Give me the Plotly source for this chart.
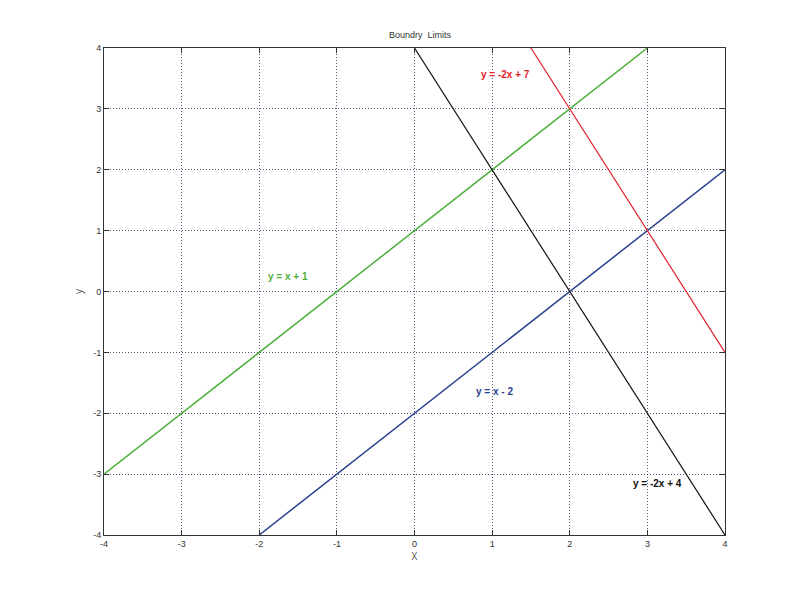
import plotly.graph_objects as go

# line end points
green_x = [-4, 3]
green_y = [-3, 4]
blue_x = [-2, 4]
blue_y = [-4, 2]
black_x = [0, 4]
black_y = [4, -4]
red_x = [1.5, 4]
red_y = [4, -1]

labels = ["<b>y = -2x + 7</b>", "<b>y = x + 1</b>", "<b>y = x - 2</b>", "<b>y = -2x + 4</b>"]
label_x = [1.17, -1.63, 1.03, 3.13]
label_y = [3.57, 0.24, -1.65, -3.16]
label_colors = ["#e0202a", "#4caf3a", "#2a3f8f", "#111111"]

ticks = [-4, -3, -2, -1, 0, 1, 2, 3, 4]
tick_text = ["-4", "-3", "-2", "-1", "0", "1", "2", "3", "4"]

fig = go.Figure()
fig.add_trace(go.Scatter(x=green_x, y=green_y, mode="lines", line=dict(color="#4caf3a", width=1.5)))
fig.add_trace(go.Scatter(x=blue_x, y=blue_y, mode="lines", line=dict(color="#2a3f8f", width=1.5)))
fig.add_trace(go.Scatter(x=black_x, y=black_y, mode="lines", line=dict(color="#111111", width=1.2)))
fig.add_trace(go.Scatter(x=red_x, y=red_y, mode="lines", line=dict(color="#e0202a", width=1.2)))

for t, x, y, c in zip(labels, label_x, label_y, label_colors):
    fig.add_annotation(x=x, y=y, text=t, showarrow=False,
                       font=dict(color=c, size=10, family="Arial"))

axis = dict(range=[-4, 4], tickvals=ticks, ticktext=tick_text, showgrid=True,
            gridcolor="#555577", griddash="1px,2px", gridwidth=1, zeroline=False,
            showline=True, linecolor="#333333", linewidth=1, mirror="ticks",
            ticks="inside", ticklen=5, tickcolor="#333333",
            tickfont=dict(size=9, color="#333333", family="Arial"))

fig.update_layout(
    width=800, height=600, showlegend=False,
    plot_bgcolor="white", paper_bgcolor="white",
    margin=dict(l=96, r=83, t=40, b=73),
    title=dict(text="Boundry  Limits", x=0.515, xanchor="center", y=0.955, yanchor="middle",
               font=dict(size=9, color="#333333", family="Arial")),
    xaxis=dict(axis, title=dict(text="X", font=dict(size=10, color="#555555"), standoff=2)),
    yaxis=dict(axis, title=dict(text="y", font=dict(size=10, color="#555555"), standoff=8)),
)

fig.write_html("out.html")
